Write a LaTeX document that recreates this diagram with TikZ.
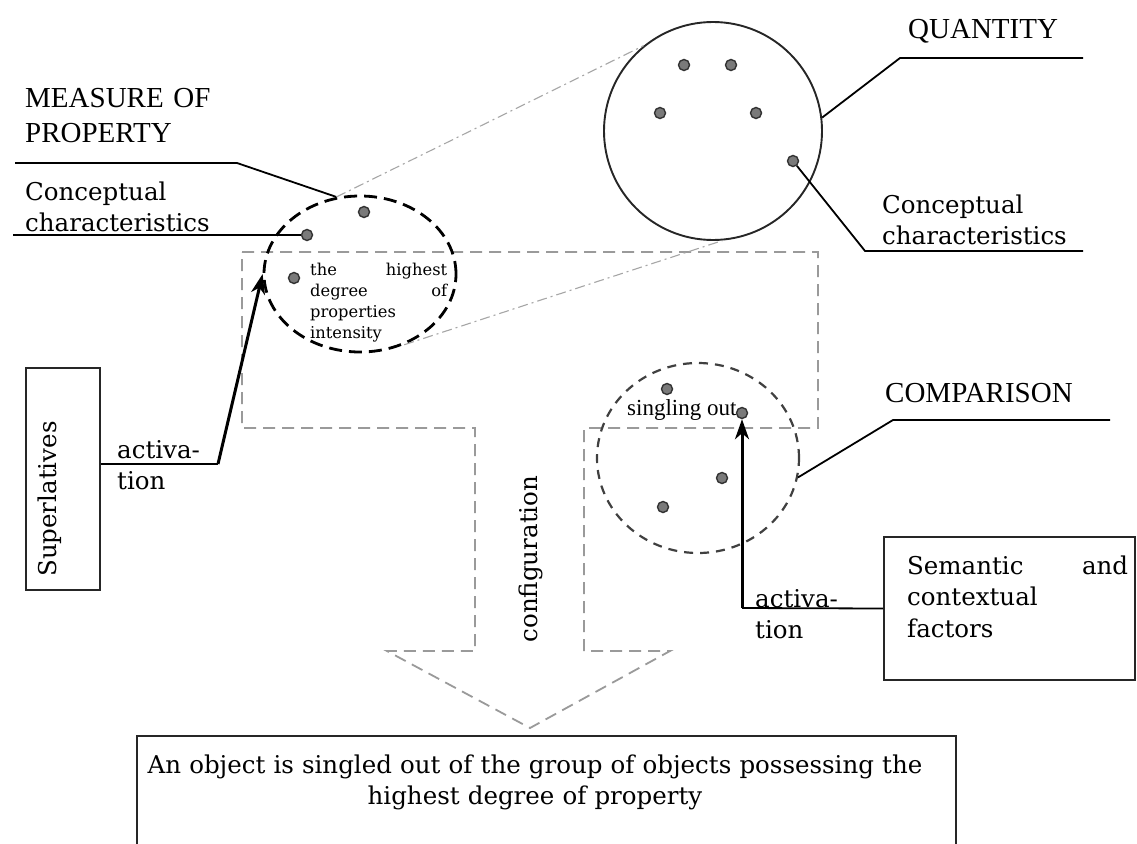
\documentclass[tikz,border=0pt]{standalone}
\usepackage{fontspec}
\setmainfont{DejaVu Serif}
\newfontfamily\tmsfont{Liberation Serif}
\usetikzlibrary{arrows.meta,shapes.geometric}
\newcommand\geofont{\fontsize{24.5}{31.5}\selectfont}
\newcommand\capfont{\tmsfont\fontsize{29}{35}\selectfont}
\definecolor{dotgray}{HTML}{7A7A7A}
\definecolor{dashgray}{HTML}{9A9A9A}
\definecolor{cmpgray}{HTML}{404040}
\begin{document}
\begin{tikzpicture}[x=1pt,y=-1pt,
  lead/.style={draw=black,line width=1.8pt},
  boxline/.style={draw=black!85,line width=1.8pt},
  actline/.style={draw=black,line width=3pt,-{Stealth[length=20pt,width=14pt,inset=6pt]}},
  feed/.style={draw=black,line width=2.2pt},
  pt/.style={circle,draw=black!80,fill=dotgray,line width=1.4pt,minimum size=11pt,inner sep=0pt},
  tangent/.style={draw=black!35,line width=1.1pt,dash pattern=on 10pt off 4pt on 2pt off 4pt},
  txt/.style={inner sep=0pt,font=\geofont},
  ctxt/.style={inner sep=0pt,font=\capfont}
]
\clip (0,0) rectangle (1137,843);
\fill[white] (0,0) rectangle (1137,843);

% big configuration arrow (dashed gray)
\draw[dashgray,line width=1.8pt,dash pattern=on 12pt off 7pt]
  (242,252) -- (818,252) -- (818,428) -- (584,428) -- (584,651) -- (670,651)
  -- (530,728) -- (387,651) -- (475,651) -- (475,428) -- (242,428) -- cycle;
\node[txt,rotate=90,anchor=base] (conf) at (537,559) {configuration};

% QUANTITY circle
\node[circle,draw=black!85,line width=1.9pt,minimum size=218pt,inner sep=0pt] (qc) at (713,131) {};
\node[pt] (q1) at (684,65) {};
\node[pt] (q2) at (731,65) {};
\node[pt] (q3) at (660,113) {};
\node[pt] (q4) at (756,113) {};
\node[pt] (q5) at (793,161) {};
\node[ctxt,anchor=base west] (qlab) at (908,39) {QUANTITY};
\coordinate (qk) at (900,58);
\coordinate (qe) at (1083,58);
\draw[lead] (qc.7) -- (qk) -- (qe);
\node[txt,anchor=base west,text width=230pt,align=left] (qchar) at (882,213) {Conceptual\\characteristics};
\coordinate (ck) at (865,251);
\coordinate (ce) at (1083,251);
\draw[lead] (q5) -- (ck) -- (ce);

% MEASURE OF PROPERTY ellipse
\node[ellipse,draw=black,line width=2.8pt,dash pattern=on 13pt off 7pt,minimum width=192pt,minimum height=156pt,inner sep=0pt] (me) at (360,274) {};
\node[pt] (m1) at (364,212) {};
\node[pt] (m2) at (307,235) {};
\node[pt] (m3) at (294,278) {};
\node[inner sep=0pt,anchor=base west,text width=137pt,align=justify,font=\fontsize{16.3}{21}\selectfont] (hd) at (310,275)
  {the highest\linebreak degree of\linebreak properties\\intensity};
\node[ctxt,anchor=base west,text width=300pt,align=left] (mlab) at (25,107) {MEASURE OF\\PROPERTY};
\coordinate (ms) at (15,163);
\coordinate (mk) at (237,163);
\draw[lead] (ms) -- (mk) -- (me.107);
\node[txt,anchor=base west,text width=230pt,align=left] (mchar) at (25,200) {Conceptual\\characteristics};
\coordinate (mcs) at (13,235);
\draw[lead] (mcs) -- (m2);

% tangent dash-dot lines
\draw[tangent] (me.107) -- (qc.129);
\draw[tangent] (me.302) -- (qc.275);

% COMPARISON circle
\node[ellipse,draw=cmpgray,line width=2.2pt,dash pattern=on 9pt off 7pt,minimum width=202pt,minimum height=190pt,inner sep=0pt] (cm) at (698,458) {};
\node[pt] (c1) at (667,389) {};
\node[pt] (c2) at (742,413) {};
\node[pt] (c3) at (722,478) {};
\node[pt] (c4) at (663,507) {};
\node[inner sep=0pt,anchor=base west,font=\tmsfont\fontsize{23}{27}\selectfont] (sing) at (627,415) {singling out};
\node[ctxt,anchor=base west] (clab) at (885,402) {COMPARISON};
\coordinate (cmk) at (893,420);
\coordinate (cme) at (1110,420);
\draw[lead] (cm.349) -- (cmk) -- (cme);

% Superlatives box and activation
\node[boxline,minimum width=74pt,minimum height=222pt,inner sep=0pt] (sup) at (63,479) {};
\node[txt,rotate=90,anchor=base] (suptxt) at (56,499) {Superlatives};
\coordinate (a1) at (218,464);
\draw[feed] ([yshift=15pt]sup.east) -- (a1);
\draw[actline] (a1) -- (me.west);
\node[txt,anchor=base west,text width=100pt,align=left] (act1) at (117,458) {activa-\\tion};

% Semantic and contextual factors box and activation
\node[boxline,minimum width=251pt,minimum height=143pt,inner sep=0pt] (sem) at (1009.5,608.5) {};
\node[txt,anchor=base west,text width=221pt,align=justify] (semtxt) at (907,574) {Semantic and\linebreak contextual\\factors};
\coordinate (a2) at (742,608);
\draw[feed,line width=1.8pt] (sem.west) -- (a2);
\draw[actline] (a2) -- (c2.south);
\node[txt,anchor=base west,text width=100pt,align=left] (act2) at (755,607) {activa-\\tion};

% Result box
\coordinate (rb1) at (137,860);
\coordinate (rb2) at (956,860);
\draw[boxline] (rb1) |- (rb2 |- 0,736) -- (rb2);
\node[txt,anchor=base,text width=860pt,align=center] (res) at (535,773)
  {An object is singled out of the group of objects possessing the\\highest degree of property};
\end{tikzpicture}
\end{document}
